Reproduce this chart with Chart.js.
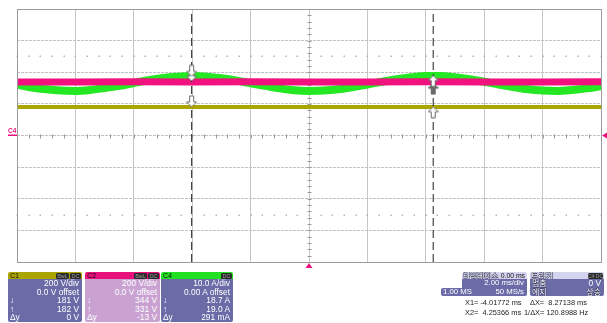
<!DOCTYPE html>
<html><head><meta charset="utf-8">
<script src="https://cdn.jsdelivr.net/npm/chart.js@4.4.0/dist/chart.umd.min.js"></script>
<style>
html,body{margin:0;padding:0;background:#fff;}
#wrap{position:relative;width:607px;height:323px;overflow:hidden;font-family:"Liberation Sans","Noto Sans CJK KR",sans-serif;}
#cv{position:absolute;left:0;top:0;}
.box{position:absolute;top:272px;border-radius:2px;overflow:hidden;color:#fff;}
.hd{position:relative;height:7px;font-size:7px;line-height:7px;color:#111;padding-left:2px;}
.hd .bg{position:absolute;top:0.5px;height:6px;background:#2a2a2a;color:#999;border-radius:1.5px;font-size:5.5px;line-height:6px;text-align:center;}
.body{position:relative;}
.row{position:relative;height:8.6px;font-size:8.4px;line-height:8.6px;white-space:nowrap;}
.row .l{position:absolute;left:2px;}
.row .v{position:absolute;right:3px;}
.meas{position:absolute;font-size:7.4px;line-height:9px;color:#222;white-space:nowrap;}
.ko{font-family:"Noto Sans CJK KR",sans-serif;color:#fff;text-shadow:-0.6px 0 #3a3a60,0.6px 0 #3a3a60,0 -0.6px #3a3a60,0 0.6px #3a3a60;}
</style></head>
<body>
<div id="wrap">
<canvas id="cv" width="607" height="323"></canvas>

<div class="box" style="left:8px;width:74px;height:50px;">
  <div class="hd" style="background:#aaa400;">C1<span class="bg" style="left:48px;width:13px;">BwL</span><span class="bg" style="left:62px;width:11px;">DC</span></div>
  <div class="body" style="background:#6b6ba8;height:43px;">
    <div class="row"><span class="v">200 V/div</span></div>
    <div class="row"><span class="v">0.0 V offset</span></div>
    <div class="row"><span class="l">↓</span><span class="v">181 V</span></div>
    <div class="row"><span class="l">↑</span><span class="v">182 V</span></div>
    <div class="row"><span class="l">Δy</span><span class="v">0 V</span></div>
  </div>
</div>
<div class="box" style="left:85px;width:75px;height:50px;">
  <div class="hd" style="background:#e8117c;">C2<span class="bg" style="left:49px;width:13px;">BwL</span><span class="bg" style="left:63px;width:11px;">DC</span></div>
  <div class="body" style="background:#c9a2d2;height:43px;">
    <div class="row"><span class="v">200 V/div</span></div>
    <div class="row"><span class="v">0.0 V offset</span></div>
    <div class="row"><span class="l">↓</span><span class="v">344 V</span></div>
    <div class="row"><span class="l">↑</span><span class="v">331 V</span></div>
    <div class="row"><span class="l">Δy</span><span class="v">-13 V</span></div>
  </div>
</div>
<div class="box" style="left:161px;width:72px;height:50px;">
  <div class="hd" style="background:#22e022;">C4<span class="bg" style="left:60px;width:11px;">DC</span></div>
  <div class="body" style="background:#6b6ba8;height:43px;">
    <div class="row"><span class="v">10.0 A/div</span></div>
    <div class="row"><span class="v">0.00 A offset</span></div>
    <div class="row"><span class="l">↓</span><span class="v">18.7 A</span></div>
    <div class="row"><span class="l">↑</span><span class="v">19.0 A</span></div>
    <div class="row"><span class="l">Δy</span><span class="v">291 mA</span></div>
  </div>
</div>

<div style="position:absolute;left:441px;top:287.5px;width:24px;height:8.5px;background:#6b6ba8;border-radius:2px 0 0 2px;"></div>
<div class="box" style="left:462px;width:65px;height:24px;">
  <div class="hd" style="background:#d4d4ee;height:7px;"><span class="ko" style="position:absolute;left:1px;top:-1px;font-size:8px;line-height:9px;letter-spacing:-0.3px;">타임베이스</span><span style="position:absolute;right:2px;color:#111;font-size:6.8px;">0.00 ms</span></div>
  <div class="body" style="background:#6b6ba8;height:17px;">
    <div class="row" style="font-size:7.8px;"><span class="v">2.00 ms/div</span></div>
    <div class="row" style="font-size:7.8px;"><span class="v">50 MS/s</span></div>
  </div>
</div>
<div class="meas" style="left:443px;top:287.5px;color:#fff;font-size:7.8px;line-height:8.6px;">1.00 MS</div>
<div class="box" style="left:530px;width:74px;height:24px;">
  <div class="hd" style="background:#d4d4ee;height:7px;"><span class="ko" style="position:absolute;left:1px;top:-1px;font-size:8px;line-height:9px;">트리거</span><span class="bg" style="left:58px;width:15px;font-size:5px;">C4 DC</span></div>
  <div class="body" style="background:#6b6ba8;height:17px;">
    <div class="row"><span class="l ko" style="font-size:8px;">멈춤</span><span class="v">0 V</span></div>
    <div class="row"><span class="l ko" style="font-size:8px;">에지</span><span class="v ko" style="font-size:8px;">상승</span></div>
  </div>
</div>

<div class="meas" style="left:465px;top:298px;">X1= -4.01772 ms</div>
<div class="meas" style="left:530px;top:298px;">ΔX=&nbsp;&nbsp;8.27138 ms</div>
<div class="meas" style="left:465px;top:308px;">X2=&nbsp;&nbsp;4.25366 ms</div>
<div class="meas" style="left:524px;top:308px;">1/ΔX= 120.8988 Hz</div>
</div>

<script>
// ---- data ----
const timeMs = [-10,-9.5,-9,-8.5,-8,-7.5,-7,-6.5,-6,-5.5,-5,-4.5,-4,-3.5,-3,-2.5,-2,-1.5,-1,-0.5,0,
                0.5,1,1.5,2,2.5,3,3.5,4,4.5,5,5.5,6,6.5,7,7.5,8,8.5,9,9.5,10];
const c4Amps = [16.1,15.2,14.6,14.2,14.1,14.4,15.0,15.7,16.6,17.5,18.2,18.6,18.8,18.6,18.1,17.4,16.5,15.7,14.9,14.3,14.1,
                14.2,14.6,15.3,16.1,17.0,17.8,18.4,18.8,18.8,18.4,17.8,17.0,16.1,15.3,14.6,14.2,14.1,14.4,14.9,15.6];
const flatTimeMs = [-10,-8,-6,-4,-2,0,2,4,6,8,10];
const c2Volts = [339,339,340,339,340,339,339,340,339,339,340];
const c1Volts = [181,181,181,181,181,181,181,181,181,181,181];
const cursorX1 = -4.01772;
const cursorX2 = 4.25366;
const c1AtCursors = [181,182];
const c2AtCursors = [344,331];
const c4AtCursors = [18.7,19.0];
const triggerTimeMs = 0;
const triggerLevel = 0;

const pts = (xs, ys) => xs.map((x,i)=>({x:x,y:ys[i]}));

function arrow(dir, fill){
  const c = document.createElement('canvas'); c.width = 11; c.height = 24;
  const g = c.getContext('2d');
  g.beginPath();
  if (dir === 'down'){
    g.moveTo(3.5,1); g.lineTo(7.5,1); g.lineTo(7.5,7); g.lineTo(10.5,7); g.lineTo(5.5,12); g.lineTo(0.5,7); g.lineTo(3.5,7);
  } else {
    g.moveTo(3.5,23); g.lineTo(7.5,23); g.lineTo(7.5,17); g.lineTo(10.5,17); g.lineTo(5.5,12); g.lineTo(0.5,17); g.lineTo(3.5,17);
  }
  g.closePath();
  g.fillStyle = fill; g.fill();
  g.strokeStyle = '#6a6a6a'; g.lineWidth = 1; g.stroke();
  return c;
}
const aDownW = arrow('down','#ffffff');
const aUpW = arrow('up','#ffffff');
const aUpD = arrow('up','#6a6a6a');

const decor = {
  id:'decor',
  beforeDatasetsDraw(chart){
    const {ctx, chartArea:a, scales:{x,y}} = chart;
    ctx.save();
    ctx.fillStyle = '#b4b4b4';
    for (const lv of [2.5,-2.5]){
      const py = Math.round(y.getPixelForValue(lv));
      for (let t=-10; t<=10.001; t+=0.4){
        const px = Math.round(x.getPixelForValue(t));
        ctx.fillRect(px-0.5, py-0.5, 1.5, 1.5);
      }
    }
    ctx.strokeStyle = '#9a9a9a'; ctx.lineWidth = 1;
    const cy = Math.round(y.getPixelForValue(0))+0.5;
    const cx = Math.round(x.getPixelForValue(0))+0.5;
    ctx.beginPath();
    for (let t=-10; t<=10.001; t+=0.4){
      const px = Math.round(x.getPixelForValue(t))+0.5;
      ctx.moveTo(px, cy-2); ctx.lineTo(px, cy+2);
    }
    for (let v=-4; v<=4.001; v+=0.2){
      const py = Math.round(y.getPixelForValue(v))+0.5;
      ctx.moveTo(cx-2, py); ctx.lineTo(cx+2, py);
    }
    ctx.stroke();
    ctx.restore();
  },
  afterDraw(chart){
    const {ctx, chartArea:a, scales:{x,y}} = chart;
    ctx.save();
    ctx.strokeStyle = '#9c9c9c'; ctx.lineWidth = 1;
    ctx.strokeRect(Math.round(a.left)+0.5, Math.round(a.top)+0.5, Math.round(a.right-a.left), Math.round(a.bottom-a.top));
    ctx.fillStyle = '#e8117c';
    const tx = x.getPixelForValue(triggerTimeMs);
    ctx.beginPath(); ctx.moveTo(tx, a.bottom+1); ctx.lineTo(tx+3.5, a.bottom+6); ctx.lineTo(tx-3.5, a.bottom+6); ctx.closePath(); ctx.fill();
    const ty = chart.scales.yC4.getPixelForValue(triggerLevel);
    ctx.beginPath(); ctx.moveTo(a.right+1, ty); ctx.lineTo(a.right+6, ty-3); ctx.lineTo(a.right+6, ty+3); ctx.closePath(); ctx.fill();
    const gy = chart.scales.yC4.getPixelForValue(0);
    ctx.font = 'bold 6.5px "Liberation Sans", sans-serif';
    ctx.textBaseline = 'bottom';
    ctx.fillText('C4', 8, gy-1);
    ctx.fillRect(8, gy-1, 9, 1.5);
    ctx.restore();
  }
};

new Chart(document.getElementById('cv'), {
  type:'line',
  data:{ datasets:[
    {label:'mkC4', type:'scatter', yAxisID:'yC4', data:pts([cursorX1,cursorX2],c4AtCursors), pointStyle:[aDownW,aUpW], pointRadius:5, showLine:false, order:0},
    {label:'mkC2', type:'scatter', yAxisID:'yC2', data:pts([cursorX1,cursorX2],c2AtCursors), pointStyle:[aDownW,aUpD], pointRadius:5, showLine:false, order:1},
    {label:'mkC1', type:'scatter', yAxisID:'yC1', data:pts([cursorX1,cursorX2],c1AtCursors), pointStyle:[aDownW,aUpW], pointRadius:5, showLine:false, order:2},
    {label:'X1', yAxisID:'y', data:[{x:cursorX1,y:-4},{x:cursorX1,y:4}], borderColor:'#1e1e1e', borderWidth:1, borderDash:[8,4], pointRadius:0, order:3},
    {label:'X2', yAxisID:'y', data:[{x:cursorX2,y:-4},{x:cursorX2,y:4}], borderColor:'#1e1e1e', borderWidth:1, borderDash:[8,4], pointRadius:0, order:4},
    {label:'C2', yAxisID:'yC2', data:pts(flatTimeMs,c2Volts), borderColor:'#f2127f', borderWidth:7, pointRadius:0, order:5},
    {label:'C4', yAxisID:'yC4', data:pts(timeMs,c4Amps), borderColor:'#24e824', borderWidth:8, pointRadius:0, cubicInterpolationMode:'monotone', order:6},
    {label:'C1', yAxisID:'yC1', data:pts(flatTimeMs,c1Volts), borderColor:'#aaa500', borderWidth:4, pointRadius:0, order:7}
  ]},
  options:{
    responsive:false, animation:false, devicePixelRatio:1,
    layout:{padding:{left:17, top:9, right:6, bottom:61}},
    plugins:{legend:{display:false}, tooltip:{enabled:false}},
    scales:{
      x:{type:'linear', min:-10, max:10, ticks:{display:false, stepSize:2}, grid:{color:'#c6c6c6', drawTicks:false}, border:{display:false}},
      y:{min:-4, max:4, ticks:{display:false, stepSize:1}, grid:{color:'#c2c2c2', drawTicks:false}, border:{display:false, dash:[3,1]}},
      yC1:{display:false, min:-800, max:800},
      yC2:{display:false, min:-800, max:800},
      yC4:{display:false, min:-40, max:40}
    }
  },
  plugins:[decor]
});
</script>
</body></html>
